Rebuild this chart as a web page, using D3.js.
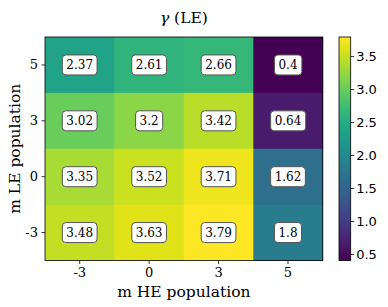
<!DOCTYPE html>
<html>
<head>
<meta charset="utf-8">
<script src="https://cdnjs.cloudflare.com/ajax/libs/d3/7.8.5/d3.min.js"></script>
<style>
  body { margin: 0; background: #fff; }
  text { font-family: "DejaVu Serif", serif; fill: #000; }
</style>
</head>
<body>
<svg id="chart"></svg>
<script>
var width = 388;
var height = 307;

// columns: m HE population, rows: m LE population (top to bottom)
var heLabels = ['-3', '0', '3', '5'];
var leLabels = ['5', '3', '0', '-3'];
var row5 = [2.37, 2.61, 2.66, 0.4];
var row3 = [3.02, 3.2, 3.42, 0.64];
var row0 = [3.35, 3.52, 3.71, 1.62];
var rowM3 = [3.48, 3.63, 3.79, 1.8];
var rows = [row5, row3, row0, rowM3];
var cbTicks = [0.5, 1.0, 1.5, 2.0, 2.5, 3.0, 3.5];

var plot = {left: 45, top: 37, right: 322.7, bottom: 260.5};
var cb = {left: 339, right: 350.7};

var svg = d3.select('#chart')
  .attr('width', width)
  .attr('height', height);

var x = d3.scaleBand().domain(heLabels).range([plot.left, plot.right]);
var y = d3.scaleBand().domain(leLabels).range([plot.top, plot.bottom]);

var vmin = d3.min(rows, function(r) { return d3.min(r); });
var vmax = d3.max(rows, function(r) { return d3.max(r); });
var color = d3.scaleSequential(d3.interpolateViridis).domain([vmin, vmax]);

var cells = [];
rows.forEach(function(r, i) {
  r.forEach(function(v, j) {
    cells.push({he: heLabels[j], le: leLabels[i], value: v});
  });
});

svg.append('g').selectAll('rect')
  .data(cells)
  .enter().append('rect')
  .attr('x', function(d) { return x(d.he); })
  .attr('y', function(d) { return y(d.le); })
  .attr('width', x.bandwidth() + 0.5)
  .attr('height', y.bandwidth() + 0.5)
  .attr('fill', function(d) { return color(d.value); });

// annotation boxes
var ann = svg.append('g').selectAll('g')
  .data(cells)
  .enter().append('g')
  .attr('transform', function(d) {
    return 'translate(' + (x(d.he) + x.bandwidth() / 2) + ',' + (y(d.le) + y.bandwidth() / 2) + ')';
  });

ann.append('text')
  .attr('text-anchor', 'middle')
  .attr('dy', '0.36em')
  .style('font-size', '12px')
  .text(function(d) { return String(d.value); });

ann.each(function() {
  var g = d3.select(this);
  var bb = g.select('text').node().getBBox();
  g.insert('rect', 'text')
    .attr('x', bb.x - 4)
    .attr('y', -10)
    .attr('width', bb.width + 8)
    .attr('height', 20)
    .attr('rx', 3.5)
    .attr('fill', '#fff')
    .attr('stroke', '#555')
    .attr('stroke-width', 1);
});

svg.append('rect')
  .attr('x', plot.left).attr('y', plot.top)
  .attr('width', plot.right - plot.left).attr('height', plot.bottom - plot.top)
  .attr('fill', 'none').attr('stroke', '#000').attr('stroke-width', 0.8);

var xAxis = svg.append('g')
  .attr('transform', 'translate(0,' + plot.bottom + ')')
  .call(d3.axisBottom(x).tickSize(3.5).tickPadding(3.5));
var yAxis = svg.append('g')
  .attr('transform', 'translate(' + plot.left + ',0)')
  .call(d3.axisLeft(y).tickSize(3.5).tickPadding(3.5));
[xAxis, yAxis].forEach(function(a) {
  a.select('.domain').remove();
  a.selectAll('line').attr('stroke', '#000').attr('stroke-width', 0.8);
  a.selectAll('text').style('font-size', '13px').style('font-family', '"DejaVu Serif", serif');
});

svg.append('text')
  .attr('x', (plot.left + plot.right) / 2)
  .attr('y', 297)
  .attr('text-anchor', 'middle')
  .style('font-size', '15.5px')
  .text('m HE population');

svg.append('text')
  .attr('transform', 'translate(20,' + ((plot.top + plot.bottom) / 2) + ') rotate(-90)')
  .attr('text-anchor', 'middle')
  .style('font-size', '15.5px')
  .text('m LE population');

var title = svg.append('text')
  .attr('x', (plot.left + plot.right) / 2)
  .attr('y', 23)
  .attr('text-anchor', 'middle')
  .style('font-size', '15.5px');
title.append('tspan').style('font-style', 'italic').text('γ');
title.append('tspan').text(' (LE)');

// colorbar
var cbScale = d3.scaleLinear().domain([vmin, vmax]).range([plot.bottom, plot.top]);
var defs = svg.append('defs');
var grad = defs.append('linearGradient')
  .attr('id', 'cbgrad')
  .attr('x1', 0).attr('y1', 1).attr('x2', 0).attr('y2', 0);
d3.range(0, 1.0001, 0.05).forEach(function(t) {
  grad.append('stop')
    .attr('offset', t)
    .attr('stop-color', d3.interpolateViridis(t));
});
svg.append('rect')
  .attr('x', cb.left).attr('y', plot.top)
  .attr('width', cb.right - cb.left).attr('height', plot.bottom - plot.top)
  .attr('fill', 'url(#cbgrad)')
  .attr('stroke', '#000').attr('stroke-width', 0.8);

var cbAxis = svg.append('g')
  .attr('transform', 'translate(' + cb.right + ',0)')
  .call(d3.axisRight(cbScale).tickValues(cbTicks).tickFormat(d3.format('.1f')).tickSize(3.5).tickPadding(2));
cbAxis.select('.domain').remove();
cbAxis.selectAll('line').attr('stroke', '#000').attr('stroke-width', 0.8);
cbAxis.selectAll('text').style('font-size', '13px').style('font-family', '"DejaVu Sans", sans-serif');
</script>
</body>
</html>
